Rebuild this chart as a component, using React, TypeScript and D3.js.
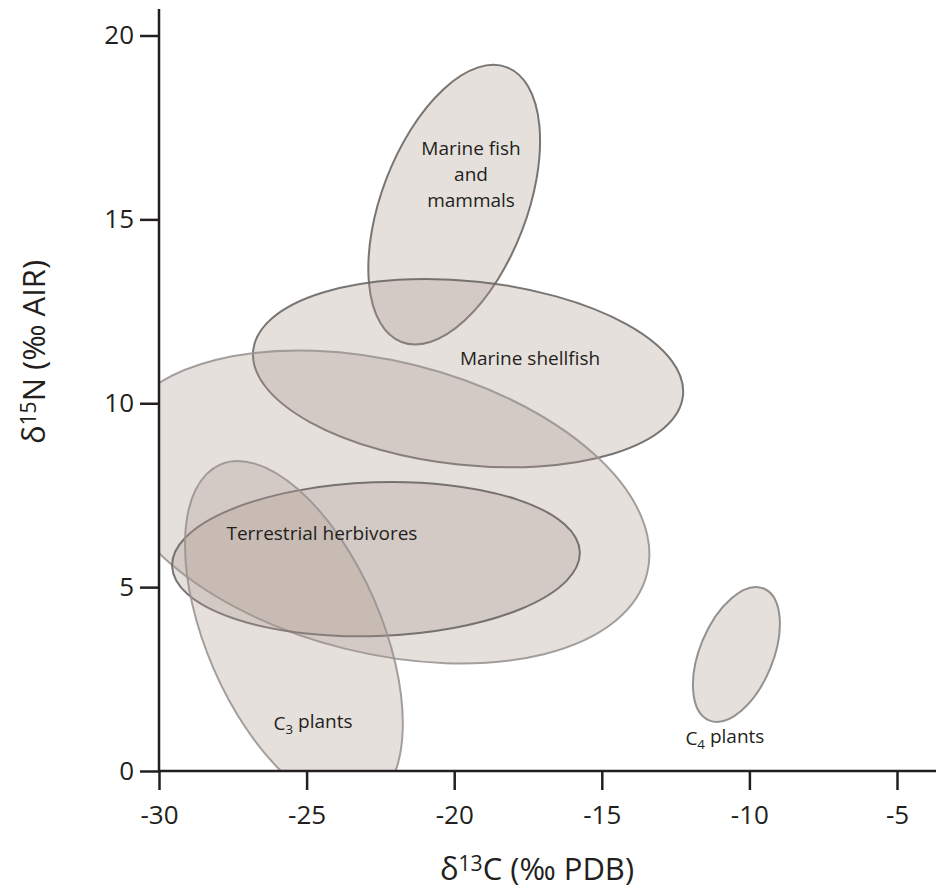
import { useRef, useEffect } from 'react';
import * as d3 from 'd3';

// axis ticks
const xTicks = [-30, -25, -20, -15, -10, -5];
const yTicks = [0, 5, 10, 15, 20];

// isotope ranges drawn as ellipses: centre (d13C, d15N), half spread on each axis, tilt in degrees
const groupIds = ['fish', 'shellfish', 'wide', 'herbivores', 'c3', 'c4'];
const centerC = [-20.0, -19.53, -22.51, -22.65, -25.43, -10.44];
const centerN = [15.4, 10.82, 7.18, 5.76, 3.72, 3.17];
const spreadC = [2.46, 7.32, 9.32, 6.91, 2.96, 1.24];
const spreadN = [4.0, 2.5, 3.97, 2.09, 5.03, 1.94];
const tilt = [21, 6, 14, -2, -23.5, 22.5];

// labels, anchored in data units
const labelText = [['Marine fish', 'and', 'mammals'], ['Marine shellfish'], ['Terrestrial herbivores'], ['C', '3', ' plants'], ['C', '4', ' plants']];
const labelC = [-19.43, -17.43, -24.48, -24.78, -10.83];
const labelN = [16.75, 11.04, 6.28, 1.11, 0.71];

const W = 936;
const H = 888;
const FONT = '"Open Sans", "Noto Sans", sans-serif';
const INK = '#231f20';

export default function App() {
    const xAxisRef = useRef<SVGGElement>(null);
    const yAxisRef = useRef<SVGGElement>(null);

    const x = d3.scaleLinear().domain([-30, -5]).range([159, 897]);
    const y = d3.scaleLinear().domain([0, 20]).range([771, 35.5]);

    // stroke tone per ellipse (darker for the marine / herbivore outlines)
    const strokeOf: Record<string, string> = {
        fish: '#6b6765', shellfish: '#6b6765', herbivores: '#6b6765',
        wide: '#9a9592', c3: '#9a9592', c4: '#8a8684'
    };

    useEffect(() => {
        const gx = d3.select(xAxisRef.current);
        gx.selectAll('*').remove();
        gx.attr('transform', `translate(0, ${y(0)})`)
            .call(d3.axisBottom(x).tickValues(xTicks).tickSize(19).tickPadding(16).tickFormat(d => String(d)));
        gx.select('.domain').remove();

        const gy = d3.select(yAxisRef.current);
        gy.selectAll('*').remove();
        gy.attr('transform', `translate(${x(-30)}, 0)`)
            .call(d3.axisLeft(y).tickValues(yTicks).tickSize(19).tickPadding(6).tickFormat(d => String(d)));
        gy.select('.domain').remove();

        [gx, gy].forEach(g => {
            g.selectAll('.tick line').attr('stroke', INK).attr('stroke-width', 2.5);
            g.selectAll('.tick text')
                .attr('fill', INK)
                .style('font-family', FONT)
                .style('font-size', '26px');
        });
    }, []);

    return (
        <svg width={W} height={H} style={{ position: 'absolute', left: 0, top: 0, background: '#fff' }}>
            <defs>
                <clipPath id="plot-area">
                    <rect x={x(-30)} y={0} width={W - x(-30)} height={y(0)} />
                </clipPath>
            </defs>

            <g clipPath="url(#plot-area)">
                {groupIds.map((id, i) => {
                    const cx = x(centerC[i]);
                    const cy = y(centerN[i]);
                    return (
                        <ellipse key={id}
                            cx={cx} cy={cy}
                            rx={x(centerC[i] + spreadC[i]) - cx}
                            ry={cy - y(centerN[i] + spreadN[i])}
                            transform={`rotate(${tilt[i]}, ${cx}, ${cy})`}
                            fill="rgb(172,152,142)" fillOpacity={0.3}
                            stroke={strokeOf[id]} strokeOpacity={0.9} strokeWidth={2} />
                    );
                })}
            </g>

            {/* axis lines */}
            <line x1={x(-30)} x2={W} y1={y(0)} y2={y(0)} stroke={INK} strokeWidth={2.5} />
            <line x1={x(-30)} x2={x(-30)} y1={9} y2={y(0)} stroke={INK} strokeWidth={2.5} />
            <g ref={xAxisRef} />
            <g ref={yAxisRef} />

            {/* group labels */}
            <g fontFamily={FONT} fontSize={19} fill={INK} textAnchor="middle">
                {labelText.map((parts, i) => {
                    if (parts.length === 3 && parts[0] === 'C') {
                        return (
                            <text key={i} x={x(labelC[i])} y={y(labelN[i])}>
                                <tspan>C</tspan>
                                <tspan fontSize="0.7em" dy="0.3em">{parts[1]}</tspan>
                                <tspan dy="-0.3em">{parts[2]}</tspan>
                            </text>
                        );
                    }
                    return (
                        <text key={i} x={x(labelC[i])} y={y(labelN[i])}>
                            {parts.map((line, j) => (
                                <tspan key={j} x={x(labelC[i])} dy={j === 0 ? 0 : 26}>{line}</tspan>
                            ))}
                        </text>
                    );
                })}
            </g>

            {/* axis titles */}
            <text x={537} y={880} textAnchor="middle" fontFamily={FONT} fontSize={31} fill={INK}>
                δ<tspan fontSize="0.68em" dy="-0.45em">13</tspan><tspan dy="0.3em">C (‰ PDB)</tspan>
            </text>
            <text transform="translate(45, 352) rotate(-90)" textAnchor="middle" fontFamily={FONT} fontSize={31} fill={INK}>
                δ<tspan fontSize="0.68em" dy="-0.45em">15</tspan><tspan dy="0.3em">N (‰ AIR)</tspan>
            </text>
        </svg>
    );
}
